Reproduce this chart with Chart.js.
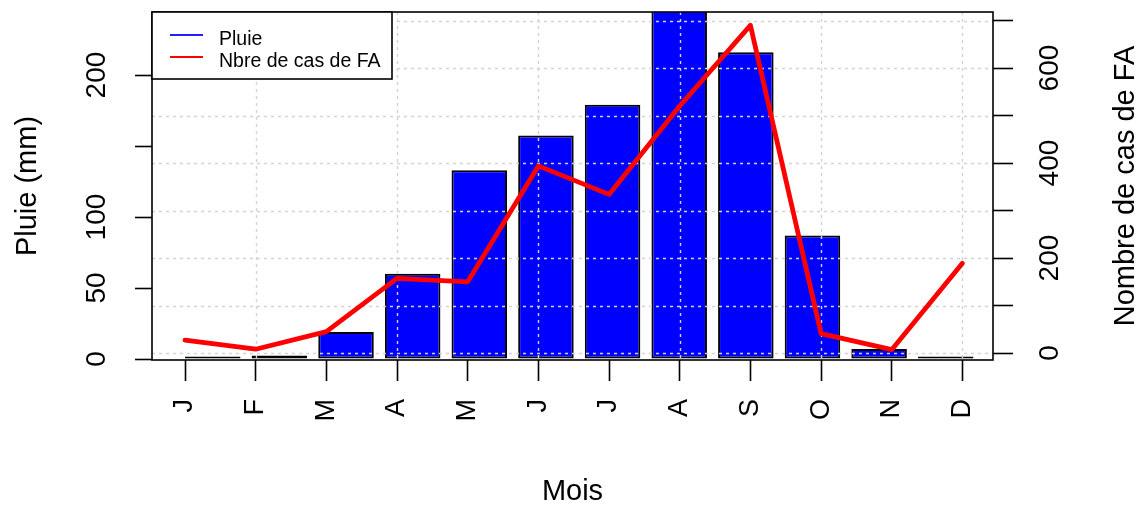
<!DOCTYPE html>
<html><head><meta charset="utf-8">
<script src="https://cdn.jsdelivr.net/npm/chart.js@4/dist/chart.umd.min.js"></script>
<style>html,body{margin:0;padding:0;background:#fff;} canvas{display:block;}</style>
</head><body>
<canvas id="c" width="1142" height="506"></canvas>
<script>
// ---- data ----
const months = ['J','F','M','A','M','J','J','A','S','O','N','D'];
const monthPos = [1,2,3,4,5,6,7,8,9,10,11,12];
const pluie = [0.3, 2.5, 19, 60, 133, 157.5, 179, 248, 216, 87, 7, 0.3];
const casFA = [27, 8, 45, 157, 150, 394, 334, 520, 690, 41, 7, 189];
const pluieTicks = [0, 50, 100, 150, 200];
const pluieTickLabels = ['0', '50', '100', '', '200'];
const casTicks = [0, 100, 200, 300, 400, 500, 600, 700];
const casTickLabels = ['0', '', '200', '', '400', '', '600', ''];
const xGridAt = [2, 4, 6, 8, 10, 12];
const seriesNames = ['Pluie', 'Nbre de cas de FA'];
const seriesColors = ['#2020FF', '#FF0000'];
const xTitle = 'Mois';
const yTitle = 'Pluie (mm)';
const y2Title = 'Nombre de cas de FA';

const FONT = '"Liberation Sans", Arial, Helvetica, sans-serif';
Chart.defaults.font.family = FONT;
Chart.defaults.color = '#000';

// R barplot default positions (width 1, space 0.2)
const barX = pluie.map((v, i) => 0.7 + 1.2 * i);
const barPoints = pluie.map((v, i) => ({x: barX[i], y: v}));
const linePoints = casFA.map((v, i) => ({x: monthPos[i], y: v}));

const gridUnderLine = {
  id: 'gridUnderLine',
  beforeDatasetDraw(chart, args) {
    if (args.meta.type !== 'line') return;
    const {ctx, chartArea: a, scales} = chart;
    ctx.save();
    ctx.beginPath(); ctx.rect(a.left, a.top, a.right - a.left, a.bottom - a.top); ctx.clip();
    ctx.strokeStyle = '#D3D3D3';
    ctx.lineWidth = 1.4;
    ctx.setLineDash([3, 4]);
    ctx.beginPath();
    casTicks.forEach(v => {
      const y = Math.round(scales.y2.getPixelForValue(v)) + 0.5;
      ctx.moveTo(a.left, y); ctx.lineTo(a.right, y);
    });
    xGridAt.forEach(v => {
      const x = Math.round(scales.x.getPixelForValue(v)) + 0.5;
      ctx.moveTo(x, a.top); ctx.lineTo(x, a.bottom);
    });
    ctx.stroke();
    ctx.restore();
  }
};

const frameLegend = {
  id: 'frameLegend',
  afterDatasetsDraw(chart) {
    const {ctx, chartArea: a} = chart;
    ctx.save();
    // plot frame
    ctx.strokeStyle = '#000';
    ctx.lineWidth = 1.6;
    ctx.setLineDash([]);
    ctx.strokeRect(a.left, a.top, a.right - a.left, a.bottom - a.top);
    // legend
    const lx = a.left, ly = a.top, lw = 240, lh = 67;
    ctx.fillStyle = '#fff';
    ctx.fillRect(lx, ly, lw, lh);
    ctx.strokeRect(lx, ly, lw, lh);
    const rows = [23, 45];
    ctx.font = '19.5px ' + FONT;
    ctx.textBaseline = 'alphabetic';
    ctx.textAlign = 'left';
    seriesNames.forEach((name, i) => {
      ctx.strokeStyle = seriesColors[i];
      ctx.lineWidth = 2;
      ctx.beginPath();
      ctx.moveTo(lx + 18, ly + rows[i]); ctx.lineTo(lx + 51, ly + rows[i]);
      ctx.stroke();
      ctx.fillStyle = '#000';
      ctx.fillText(name, lx + 67, ly + rows[i] + 10);
    });
    // right axis title (reads bottom to top, like R)
    ctx.font = '29px ' + FONT;
    ctx.textAlign = 'center';
    ctx.textBaseline = 'middle';
    ctx.translate(chart.width - 16.5, (a.top + a.bottom) / 2);
    ctx.rotate(-Math.PI / 2);
    ctx.fillStyle = '#000';
    ctx.fillText(y2Title, 0, 0);
    ctx.restore();
  }
};

new Chart(document.getElementById('c'), {
  type: 'bar',
  data: {
    datasets: [
      {
        type: 'line', label: seriesNames[1], data: linePoints,
        xAxisID: 'x', yAxisID: 'y2', order: 0,
        borderColor: seriesColors[1], borderWidth: 4.8, pointRadius: 0, tension: 0,
        borderJoinStyle: 'round', borderCapStyle: 'round', fill: false
      },
      {
        type: 'bar', label: seriesNames[0], data: barPoints,
        xAxisID: 'xb', yAxisID: 'y', order: 1, grouped: false,
        backgroundColor: '#0000FF', borderColor: '#000', borderWidth: 2,
        borderSkipped: false, minBarLength: 2.5,
        categoryPercentage: 1, barPercentage: 1 / 1.2
      }
    ]
  },
  options: {
    responsive: false,
    animation: false,
    devicePixelRatio: 1,
    layout: {padding: {top: 12, left: 0, right: 0, bottom: 0}},
    plugins: {legend: {display: false}, tooltip: {enabled: false}},
    scales: {
      x: {
        type: 'linear', position: 'bottom', min: 0.533, max: 12.433, bounds: 'data', offset: false,
        afterBuildTicks(s) { s.ticks = monthPos.map(v => ({value: v})); },
        afterFit(s) { s.height = 146; s.paddingLeft = 0; s.paddingRight = 0; },
        ticks: {
          callback: (v, i) => months[i], autoSkip: false,
          minRotation: 90, maxRotation: 90, padding: 18,
          color: '#000', font: {size: 27}
        },
        grid: {offset: false, drawOnChartArea: false, drawTicks: true, tickLength: 21, tickColor: '#000', tickWidth: 1.6},
        border: {display: false},
        title: {display: true, text: xTitle, color: '#000', font: {size: 29, lineHeight: 1}, padding: {top: 0, bottom: 0}}
      },
      xb: {
        type: 'linear', display: false, min: -0.394, max: 14.751, bounds: 'data', offset: false,
        grid: {offset: false},
        afterBuildTicks(s) { s.ticks = barX.map(v => ({value: v})); }
      },
      y: {
        type: 'linear', position: 'left', min: -0.7, max: 244.4, bounds: 'data',
        afterBuildTicks(s) { s.ticks = pluieTicks.map(v => ({value: v})); },
        afterFit(s) { s.width = 152; s.paddingTop = 0; s.paddingBottom = 0; },
        ticks: {
          callback: (v, i) => pluieTickLabels[i], autoSkip: false,
          minRotation: 90, maxRotation: 90, crossAlign: 'center', padding: 14,
          color: '#000', font: {size: 28}
        },
        grid: {drawOnChartArea: false, drawTicks: true, tickLength: 17, tickColor: '#000', tickWidth: 1.6},
        border: {display: false},
        title: {display: true, text: yTitle, color: '#000', font: {size: 29, lineHeight: 1}, padding: {top: 13, bottom: 0}}
      },
      y2: {
        type: 'linear', position: 'right', min: -14.7, max: 718, bounds: 'data',
        afterBuildTicks(s) { s.ticks = casTicks.map(v => ({value: v})); },
        afterFit(s) { s.width = 149; s.paddingTop = 0; s.paddingBottom = 0; },
        ticks: {
          callback: (v, i) => casTickLabels[i], autoSkip: false,
          minRotation: 90, maxRotation: 90, crossAlign: 'center', padding: 14,
          color: '#000', font: {size: 28}
        },
        grid: {drawOnChartArea: false, drawTicks: true, tickLength: 20, tickColor: '#000', tickWidth: 1.6},
        border: {display: false}
      }
    }
  },
  plugins: [gridUnderLine, frameLegend]
});
</script>
</body></html>
